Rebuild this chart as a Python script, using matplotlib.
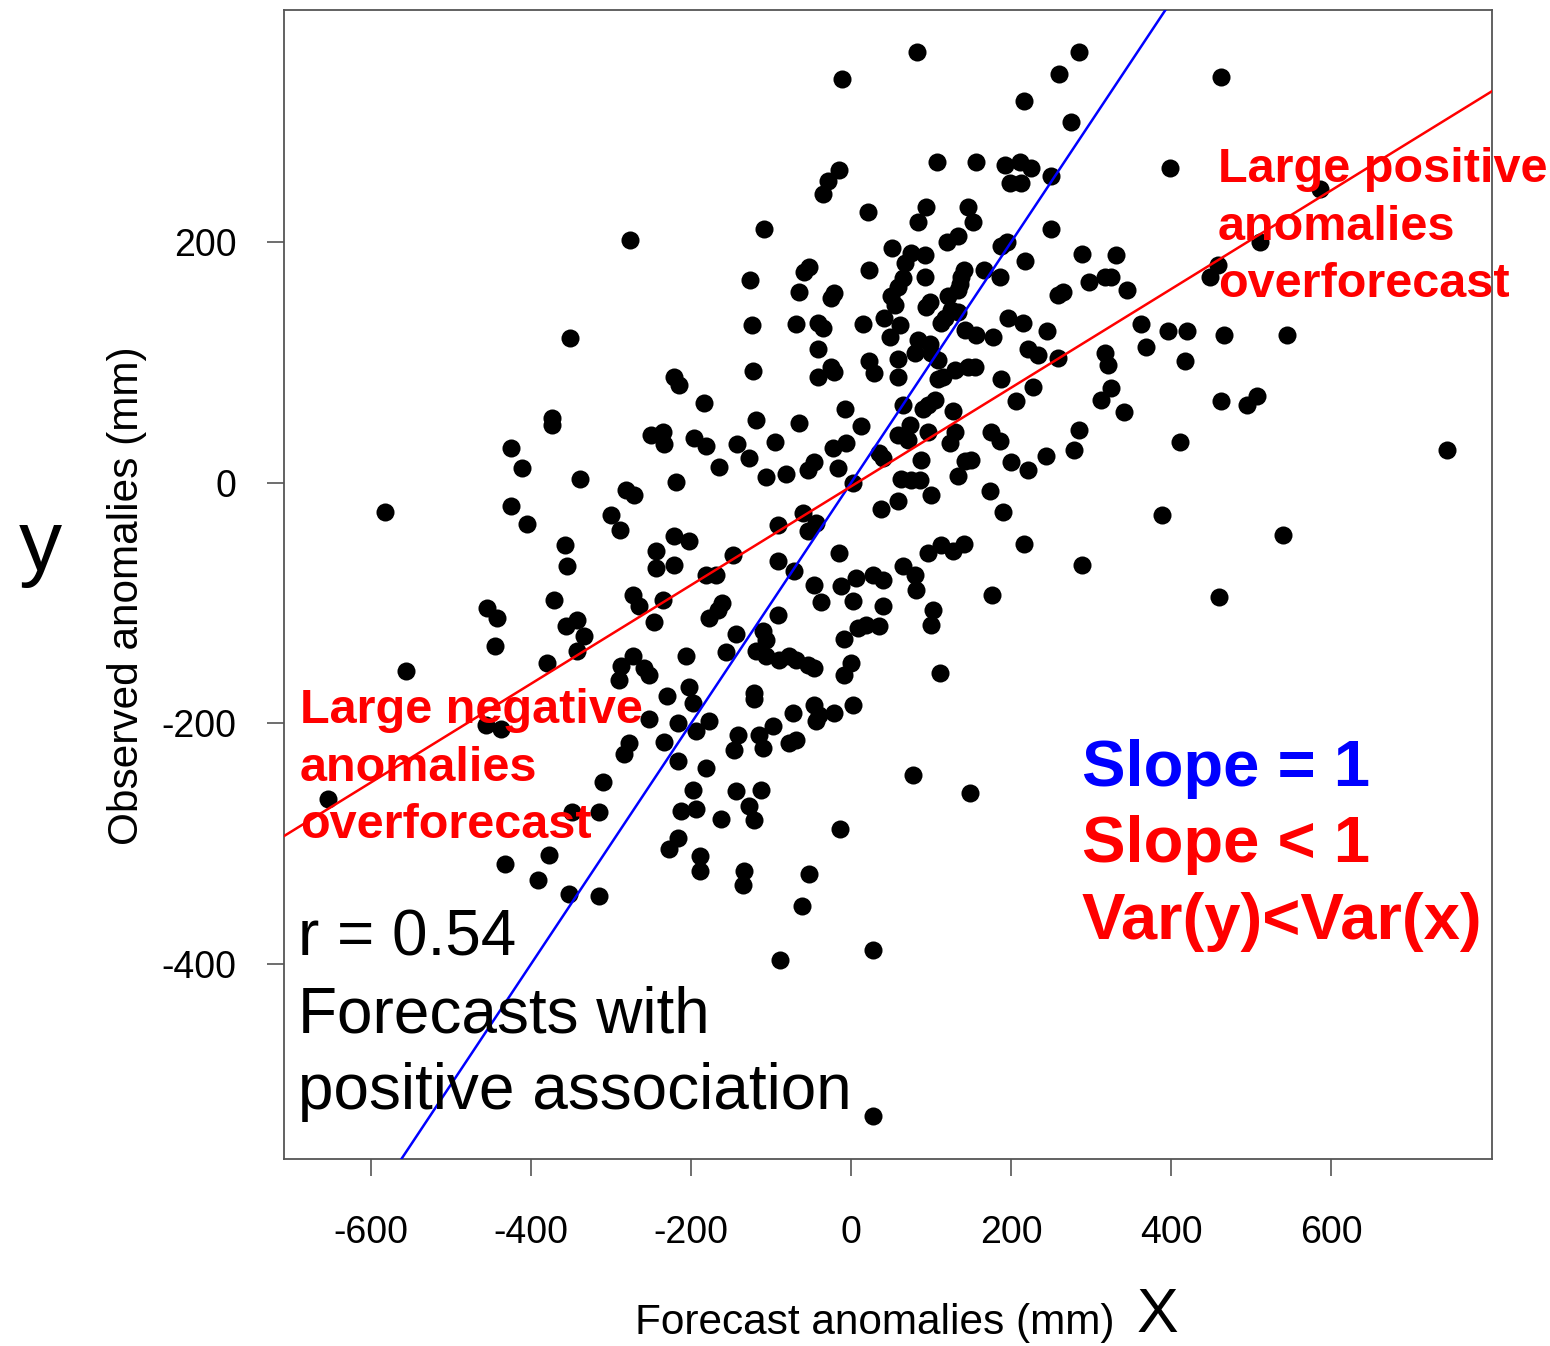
import matplotlib
matplotlib.use("Agg")
import matplotlib.pyplot as plt

# ---------------------------------------------------------------------------
# data (forecast anomaly x, observed anomaly y, mm)
# ---------------------------------------------------------------------------
forecast = [
    -351,
    -11, -15, -29, -35, 21, -109, -276, -52, -59, 22, -126, -65, -21, -25,
    -124, -69, -41, -35, 15, -41, -122, -25, -21, -41, 22, 29, -221, -215, 41,
    82, 285, 260, 216, 275, 108, 156, 193, 211, 225, 199, 213, 250, 399, 94,
    84, 146, 152, 250, 134, 120, 188, 195, 51, 75, 92, 67, 289, 331, 218, 141,
    137, 166, 92, 65, 59, 186, 297, 317, 325, 345, 265, 259, 136, 134, 50, 55,
    99, 94, 121, 125, 117, 112, 134, 61, 196, 215, 245, 362, 396, 420, 142,
    156, 177, 49, 84, 99, 80, 100, 109, 59, 221, 234, 259, 317, 321, 369, 417,
    59, 130, 146, 155, 115, 109, 188, 228, 325,
    462, 586, 511, 459, 449, 466, 545,
    -374, -374, -425, -411, -339, -582, -425, -405, -358, -355, -371, -455,
    -442, -356, -342, -334, -445, -342, -380, -556, -456, -437,
    -184, -8, -119, -65, 12, -250, -235, -234, -196, -181, -143, -95, -22, -6,
    35, 40, -128, -165, -46, -54, -16, -106, -81, -219, 2, -281, -271, 37,
    -300, -289, -60, -44, -54, -91, -221, -202, -244, -244, -221, -147, -91,
    -15, -71, -181, -169, -46, -38, -12, 2, 6, 28, 40, 40, -272, -265, -235,
    -161, -166, -177, -246, -91, -144, -110, -106, -119, -106, -9, 9, 19, 35,
    -206, -156, -90, -77, -69, -54, -46, 0, -9, -272, -287, -290, -259, -252,
    -230, -202, -197, -121, -121, -252, -216, -194, -177, -72, -46, -40, -21,
    -44, 2, -234, -277, -284, -216, -141, -146, -115, -97, -110, -77, -69,
    -181,
    65, 96, 105, 90, 127, 206, 312, 341, 74, 59, 71, 96, 130, 124, 175, 186,
    285, 279, 411, 87, 142, 150, 134, 200, 221, 244, 62, 75, 86, 100, 59, 174,
    190, 389, 96, 112, 127, 141, 216, 289, 65, 80, 81, 176, 102, 100, 111, 77,
    462, 495, 507, 745, 540, 460,
    -654, -349, -433, -378, -391, -353,
    -310, -315, -315, -197, -212, -194, -162, -144, -112, -127, -121, -14,
    -216, -227, -189, -189, -134, -135, -52, -61, -89, 27, 27,
    149,
]
observed = [
    120,
    336, 260, 251, 240, 225, 211, 202, 179, 175, 177, 169, 159, 158, 154,
    131, 132, 133, 129, 132, 111, 93, 96, 92, 88, 101, 91, 88, 81, 137,
    358, 358, 340, 317, 300, 267, 267, 264, 267, 262, 249, 249, 255, 262, 229,
    217, 229, 217, 211, 205, 200, 197, 200, 195, 191, 189, 183, 190, 189, 184,
    177, 171, 177, 171, 170, 163, 171, 167, 171, 171, 160, 159, 156, 165, 160,
    155, 148, 150, 146, 155, 144, 137, 133, 142, 131, 137, 133, 126, 132, 126,
    126, 127, 123, 121, 121, 119, 115, 108, 108, 102, 103, 111, 106, 104, 108,
    98, 113, 101, 88, 94, 96, 96, 88, 86, 86, 80, 79,
    337, 244, 200, 181, 171, 123, 123,
    54, 48, 29, 12, 3, -24, -19, -34, -52, -69, -97, -104, -112, -119, -114,
    -127, -136, -140, -150, -156, -201, -205,
    66, 61, 52, 50, 47, 40, 42, 32, 37, 31, 32, 34, 29, 33, 25, 21, 21, 13,
    17, 11, 12, 5, 7, 1, 0, -6, -10, -22, -27, -39, -25, -33, -40, -35, -44,
    -48, -57, -71, -68, -60, -65, -58, -73, -77, -77, -85, -99, -86, -98, -79,
    -77, -81, -102, -93, -102, -97, -100, -106, -112, -116, -110, -126, -123,
    -131, -140, -144, -130, -121, -118, -119, -144, -141, -147, -144, -147,
    -151, -154, -150, -160, -144, -152, -164, -154, -160, -177, -170, -183,
    -175, -180, -196, -200, -206, -198, -191, -185, -193, -191, -198, -185,
    -215, -216, -225, -231, -210, -222, -210, -202, -220, -216, -214, -237,
    65, 65, 69, 61, 60, 68, 69, 59, 48, 40, 36, 42, 42, 33, 42, 35, 44, 27,
    34, 19, 18, 19, 6, 17, 11, 22, 3, 2, 2, -10, -15, -7, -24, -27, -58, -52,
    -57, -51, -51, -68, -69, -77, -89, -93, -106, -118, -158, -243,
    68, 65, 72, 27, -43, -95,
    -263, -274, -317, -309, -330, -342,
    -249, -274, -343, -255, -273, -271, -279, -256, -255, -269, -280, -288,
    -295, -304, -310, -323, -323, -334, -325, -352, -397, -388, -526,
    -258,
]

# reference lines: 1:1 line and the fitted regression line
ONE_TO_ONE = (0.0, 1.0)          # intercept, slope
REG_LINE = (-3.0, 0.41)

xticks = [-600, -400, -200, 0, 200, 400, 600]
yticks = [-400, -200, 0, 200]

# ---------------------------------------------------------------------------
# plot
# ---------------------------------------------------------------------------
plt.rcParams["font.family"] = ["Liberation Sans", "DejaVu Sans"]
plt.rcParams["axes.unicode_minus"] = False

W, H = 1550, 1346
fig = plt.figure(figsize=(W / 100, H / 100), dpi=100)
ax = fig.add_axes([284 / W, 1 - 1159 / H, 1208 / W, 1149 / H])


def px(x, y):
    return x / W, 1 - y / H


ax.plot(forecast, observed, "o", color="black", ms=13, mew=0, zorder=2)
ax.axline((0, ONE_TO_ONE[0]), slope=ONE_TO_ONE[1], color="#0000ff", lw=1.8, zorder=3)
ax.axline((0, REG_LINE[0]), slope=REG_LINE[1], color="#ff0000", lw=1.8, zorder=3)

ax.set_xlim(-708.75, 801.25)
ax.set_ylim(-562, 393)
ax.set_xticks(xticks)
ax.set_yticks(yticks)
ax.tick_params(labelsize=27, length=12, width=1.2, color="#555555")
ax.tick_params(axis="x", pad=28)
ax.tick_params(axis="y", pad=22)
for s in ax.spines.values():
    s.set_color("#555555")
    s.set_linewidth(1.3)

# axis labels + big x / y letters
fig.text(*px(875, 1323), "Forecast anomalies (mm)", fontsize=30.5,
         ha="center", va="center")
fig.text(*px(1157, 1316), "X", fontsize=45, ha="center", va="center")
fig.text(*px(127, 596), "Observed anomalies (mm)", fontsize=30.5,
         ha="center", va="center", rotation=90)
fig.text(*px(40, 548), "y", fontsize=62, ha="center", va="center")

# annotations
red_kw = dict(color="#ff0000", fontsize=35, fontweight="bold", va="baseline",
              zorder=5)
for i, line in enumerate(["Large positive", "anomalies", "overforecast"]):
    fig.text(*px(1218, 182 + 57.5 * i), line, **red_kw)
for i, line in enumerate(["Large negative", "anomalies", "overforecast"]):
    fig.text(*px(300, 723 + 57.5 * i), line, **red_kw)

big_kw = dict(fontsize=47, fontweight="bold", va="baseline")
fig.text(*px(1082, 786), "Slope = 1", color="#0000ff", **big_kw)
fig.text(*px(1082, 862), "Slope < 1", color="#ff0000", **big_kw)
fig.text(*px(1082, 939), "Var(y)<Var(x)", color="#ff0000", **big_kw)

for i, line in enumerate(["r = 0.54", "Forecasts with", "positive association"]):
    fig.text(*px(298, 956 + 76.5 * i), line, fontsize=46, color="black",
             va="baseline")

fig.savefig("out.png", dpi=100, facecolor="white")
plt.close(fig)
